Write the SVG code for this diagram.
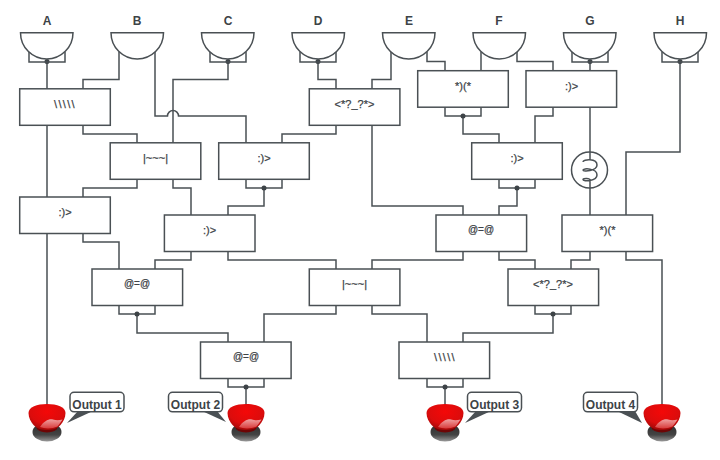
<svg xmlns="http://www.w3.org/2000/svg" width="720" height="460" viewBox="0 0 720 460">
<defs>
<radialGradient id="red" cx="50%" cy="30%" r="70%"><stop offset="0" stop-color="#f40808"/><stop offset="0.65" stop-color="#dc0c0c"/><stop offset="1" stop-color="#a00808"/></radialGradient>
<linearGradient id="base" x1="0" y1="0" x2="0" y2="1"><stop offset="0" stop-color="#2a2a2a"/><stop offset="0.65" stop-color="#444"/><stop offset="1" stop-color="#999"/></linearGradient>
<linearGradient id="hl" x1="0" y1="0" x2="0" y2="1"><stop offset="0" stop-color="#f0a0a0"/><stop offset="1" stop-color="#d83a3a"/></linearGradient>
<g id="btn">
<ellipse cx="0" cy="28" rx="14.500" ry="9.500" fill="url(#base)"/>
<ellipse cx="0" cy="23.500" rx="10.500" ry="5" fill="#6e0505"/>
<path d="M-18.500 9C-18.500 3 -10 0 0 0C10 0 18.500 3 18.500 9C18.500 14 16 18 13.500 21C10 25 5 26 0 26C-5 26 -10 25 -13.500 21C-16 18 -18.500 14 -18.500 9Z" fill="url(#red)"/>
<path d="M-7 23C-3 17 2 14.500 6 15.500C9 16.500 12 16.500 15.500 15.500C14 18 12.500 20 10.500 22.500C5 25 -2 25 -7 23Z" fill="url(#hl)"/>
</g>
</defs>
<style>
.w{fill:none;stroke:#4a5054;stroke-width:1.5}
.b{fill:#fff;stroke:#4a5054;stroke-width:1.5}
.d{fill:#3d4347}
.g{fill:#fff;stroke:#4a5054;stroke-width:1.5}
text{font-family:"Liberation Sans",Arial,sans-serif;fill:#3d4347;text-anchor:middle}
.h{font-size:12px;font-weight:bold}
.l{font-size:11px;stroke:#3d4347;stroke-width:.25}
.a{font-size:10px}
.s{letter-spacing:1.300px}
.o{font-size:12px;font-weight:bold}
.c{fill:#fff;stroke:#4a5054;stroke-width:1.5}
.t{fill:#4a5054}
</style>
<g id="connectors">
<path class="w" d="M47 61V89M47 125V405"/>
<path class="w" d="M119 52V79.500H83V89"/>
<path class="w" d="M155 52V116H167.500A5.500 5.500 0 0 1 178.500 116H246V143"/>
<path class="w" d="M228 61V79.500H173V143"/>
<path class="w" d="M83 125V134H137V143"/>
<path class="w" d="M137 179V188H83V197"/>
<path class="w" d="M173 179V188H191V215"/>
<path class="w" d="M282 143V134H336V125"/>
<path class="w" d="M246 179V188H282V179"/>
<path class="w" d="M264 188V206H228V215"/>
<path class="w" d="M83 233V242H119V269"/>
<path class="w" d="M191 251V260H155V269"/>
<path class="w" d="M228 251V260H336V269"/>
<path class="w" d="M372 269V260H463V251"/>
<path class="w" d="M499 251V260H535V269"/>
<path class="w" d="M571 269V260H590V251"/>
<path class="w" d="M626 251V260H662V405"/>
<path class="w" d="M626 215V152H680V61"/>
<path class="w" d="M590 61V215"/>
<path class="w" d="M318 61V79.500H336V89"/>
<path class="w" d="M391 52V79.500H372V89"/>
<path class="w" d="M372 125V206H463V215"/>
<path class="w" d="M427 52V61.500H445V71"/>
<path class="w" d="M481 52V71"/>
<path class="w" d="M517 52V61.500H553V71"/>
<path class="w" d="M445 107V116H481V107"/>
<path class="w" d="M463 116V134H499V143"/>
<path class="w" d="M553 107V116H535V143"/>
<path class="w" d="M499 179V188H535V179"/>
<path class="w" d="M517 188V206H499V215"/>
<path class="w" d="M119 305V314H155V305"/>
<path class="w" d="M137 314V333H228V342"/>
<path class="w" d="M336 305V314H264V342"/>
<path class="w" d="M372 305V314H427V342"/>
<path class="w" d="M535 305V314H571V305"/>
<path class="w" d="M553 314V333H463V342"/>
<path class="w" d="M228 378V387H264V378"/>
<path class="w" d="M246 387V405"/>
<path class="w" d="M427 378V387H463V378"/>
<path class="w" d="M445 387V405"/>
</g>
<g id="dots">
<circle class="d" cx="47" cy="61.500" r="2.500"/><circle class="d" cx="228" cy="61.500" r="2.500"/><circle class="d" cx="318" cy="61.500" r="2.500"/><circle class="d" cx="590" cy="61.500" r="2.500"/><circle class="d" cx="680" cy="61.500" r="2.500"/>
<circle class="d" cx="463" cy="116" r="2.500"/><circle class="d" cx="264" cy="188" r="2.500"/><circle class="d" cx="517" cy="188" r="2.500"/><circle class="d" cx="137" cy="314" r="2.500"/><circle class="d" cx="553" cy="314" r="2.500"/><circle class="d" cx="246" cy="387" r="2.500"/><circle class="d" cx="445" cy="387" r="2.500"/>
</g>
<g id="inductor">
<circle cx="589.500" cy="170" r="18" class="b"/>
<path class="w" d="M590 152V160M590 180V188M583 162C583 159 597 158 597 165C597 171 583 172 583 170C583 168 597 168 597 175C597 181 583 182 583 179.500C583 178 590 178 590 180"/>
</g>
<g id="A"><path class="w" d="M29 52V62H65V52"/><path class="g" d="M20.500 32.700H73A26.250 26.250 0 0 1 20.500 32.700Z"/><text class="h" x="47" y="24.500">A</text></g>
<g id="B"><path class="g" d="M111 32.700H163.500A26.250 26.250 0 0 1 111 32.700Z"/><text class="h" x="137" y="24.500">B</text></g>
<g id="C"><path class="w" d="M210 52V62H246V52"/><path class="g" d="M201.500 32.700H254A26.250 26.250 0 0 1 201.500 32.700Z"/><text class="h" x="228" y="24.500">C</text></g>
<g id="D"><path class="w" d="M300 52V62H336V52"/><path class="g" d="M292 32.700H344.500A26.250 26.250 0 0 1 292 32.700Z"/><text class="h" x="318" y="24.500">D</text></g>
<g id="E"><path class="g" d="M382.500 32.700H435A26.250 26.250 0 0 1 382.500 32.700Z"/><text class="h" x="409" y="24.500">E</text></g>
<g id="F"><path class="g" d="M473 32.700H525.500A26.250 26.250 0 0 1 473 32.700Z"/><text class="h" x="499" y="24.500">F</text></g>
<g id="G"><path class="w" d="M572 52V62H608V52"/><path class="g" d="M563.500 32.700H616A26.250 26.250 0 0 1 563.500 32.700Z"/><text class="h" x="590" y="24.500">G</text></g>
<g id="H"><path class="w" d="M662 52V62H698V52"/><path class="g" d="M654 32.700H706.500A26.250 26.250 0 0 1 654 32.700Z"/><text class="h" x="680" y="24.500">H</text></g>
<g id="n1"><rect class="b" x="19.700" y="88.800" width="90.600" height="36.500"/><text class="l s" x="65" y="107.500">\\\\\</text></g>
<g id="n2"><rect class="b" x="110.200" y="142.800" width="90.600" height="36.500"/><text class="l" x="155.500" y="161.500">|~~~|</text></g>
<g id="n3"><rect class="b" x="218.700" y="142.800" width="90.600" height="36.500"/><text class="l" x="264" y="162">:)&gt;</text></g>
<g id="n4"><rect class="b" x="19.700" y="197" width="90.600" height="36.500"/><text class="l" x="65" y="216">:)&gt;</text></g>
<g id="n5"><rect class="b" x="164.400" y="215" width="90.600" height="36.500"/><text class="l" x="209.500" y="234">:)&gt;</text></g>
<g id="n6"><rect class="b" x="309.300" y="88.800" width="90.600" height="36.500"/><text class="l" x="354.500" y="107.500">&lt;*?_?*&gt;</text></g>
<g id="n7"><rect class="b" x="417.700" y="70.700" width="90.600" height="36.500"/><text class="l" x="463" y="90">*)(*</text></g>
<g id="n8"><rect class="b" x="526" y="70.700" width="90.600" height="36.500"/><text class="l" x="571.500" y="90">:)&gt;</text></g>
<g id="n9"><rect class="b" x="471.700" y="142.800" width="90.600" height="36.500"/><text class="l" x="517" y="162">:)&gt;</text></g>
<g id="n10"><rect class="b" x="436" y="215" width="90.600" height="36.500"/><text class="l a" x="481" y="233">@=@</text></g>
<g id="n11"><rect class="b" x="562" y="215" width="90.600" height="36.500"/><text class="l" x="607.500" y="234">*)(*</text></g>
<g id="n12"><rect class="b" x="92" y="269" width="90.600" height="36.500"/><text class="l a" x="137" y="287">@=@</text></g>
<g id="n13"><rect class="b" x="309.300" y="269" width="90.600" height="36.500"/><text class="l" x="354.500" y="287.500">|~~~|</text></g>
<g id="n14"><rect class="b" x="508" y="269" width="90.600" height="36.500"/><text class="l" x="553" y="288">&lt;*?_?*&gt;</text></g>
<g id="n15"><rect class="b" x="200.500" y="342" width="90.600" height="36.500"/><text class="l a" x="246" y="360">@=@</text></g>
<g id="n16"><rect class="b" x="399" y="342" width="90.600" height="36.500"/><text class="l s" x="445" y="360.500">\\\\\</text></g>
<g id="out1"><use href="#btn" x="47" y="404"/><path class="t" d="M67 423L78 411H93Z"/><rect class="c" x="70" y="392.300" width="54" height="19.500" rx="4"/><text class="o" x="97" y="408.500">Output 1</text></g>
<g id="out2"><use href="#btn" x="246" y="404"/><path class="t" d="M226 422L202 411H217Z"/><rect class="c" x="168.500" y="392.300" width="54" height="19.500" rx="4"/><text class="o" x="195.500" y="408.500">Output 2</text></g>
<g id="out3"><use href="#btn" x="445" y="404"/><path class="t" d="M465 423L476 411H491Z"/><rect class="c" x="467.500" y="392.300" width="54" height="19.500" rx="4"/><text class="o" x="494.500" y="408.500">Output 3</text></g>
<g id="out4"><use href="#btn" x="662" y="404"/><path class="t" d="M642 423L617 411H635Z"/><rect class="c" x="583.500" y="392.300" width="54" height="19.500" rx="4"/><text class="o" x="610.500" y="408.500">Output 4</text></g>
</svg>
